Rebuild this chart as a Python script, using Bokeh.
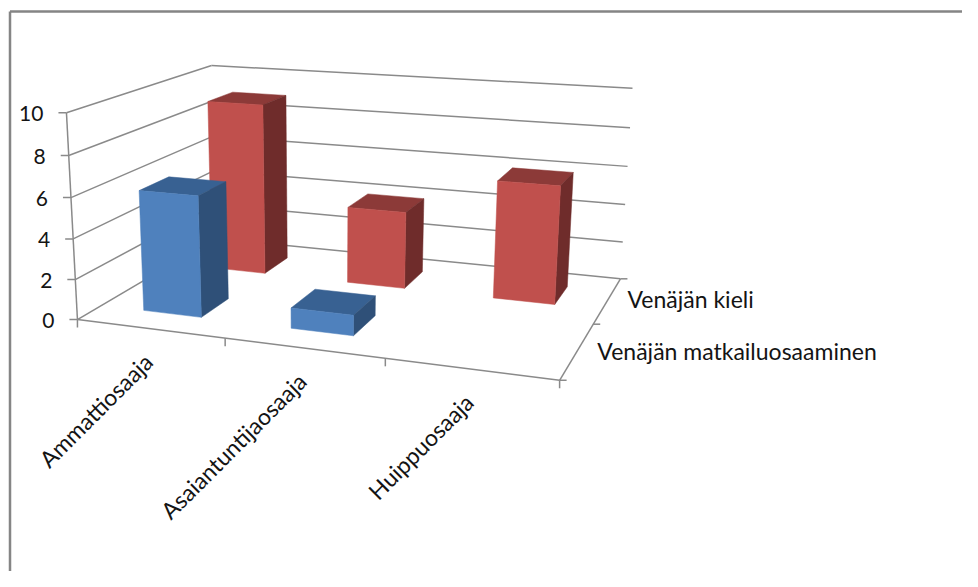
import numpy as np
from bokeh.plotting import figure
from bokeh.models import Range1d
from bokeh.core.properties import value
from bokeh.embed import file_html
from bokeh.resources import INLINE

# ---- chart data ----
categories = ["Ammattiosaaja", "Asaiantuntijaosaaja", "Huippuosaaja"]
series_names = ["Venäjän matkailuosaaminen", "Venäjän kieli"]
matkailu_values = [6, 1, 0]
kieli_values = [9, 4, 6]
value_ticks = [0, 2, 4, 6, 8, 10]

# ---- styles ----
FONT = "Lato"
TXT = "#141414"
GRID = "#8a8a8a"
FRAME = "#858585"
STYLE = {
    0: dict(front="#4F81BD", top="#386192", side="#2F5078"),
    1: dict(front="#C0504D", top="#8C3A38", side="#6F2C2B"),
}
GAP = 0.30  # share of a cell left empty on each side of a column

W, H = 962, 571
OX, OY = 0, 0

# ---- perspective camera: fitted to where the plot box corners sit on screen ----
box = np.array([
    # (category, series, value) in box units, then screen pixel
    [0, 0, 0, 77, 319],
    [0, 0, 1, 66, 112],
    [1, 0, 0, 559, 380],
    [0, 1, 0, 215, 238],
    [0, 1, 1, 211, 65],
    [1, 1, 0, 620, 278],
    [1, 1, 1, 632, 88],
], dtype=float)
rows = []
for u, v, w, sx, sy in box:
    rows.append([u, v, w, 1, 0, 0, 0, 0, -sx * u, -sx * v, -sx * w, sx])
    rows.append([0, 0, 0, 0, u, v, w, 1, -sy * u, -sy * v, -sy * w, sy])
rows = np.array(rows)
sol = np.linalg.lstsq(rows[:, :11], rows[:, 11], rcond=None)[0]
CAM = np.append(sol, 1.0).reshape(3, 4)


def proj(cat, ser, val):
    """category position (0..n), series position (0..m), value -> plot coords"""
    q = np.array([cat / len(categories), ser / len(series_names), val / value_ticks[-1], 1.0])
    r = CAM @ q
    return r[0] / r[2] - OX, r[1] / r[2] - OY


p = figure(width=W, height=H, output_backend="svg", toolbar_location=None,
           x_range=Range1d(0, W), y_range=Range1d(H, 0), min_border=0,
           outline_line_color=None, background_fill_color="white",
           border_fill_color="white")
p.xaxis.visible = False
p.yaxis.visible = False
p.xgrid.visible = False
p.ygrid.visible = False


def seg(a, b, width=1.5, color=GRID):
    p.line([a[0], b[0]], [a[1], b[1]], line_color=color, line_width=width)


# outer frame
p.line([9.5, 9.5], [H, 11], line_color=FRAME, line_width=2.5)
p.line([9.5, W], [11, 11], line_color=FRAME, line_width=2.5)

nc, ns = len(categories), len(series_names)
vmax = value_ticks[-1]

# walls' gridlines
for t in value_ticks:
    seg(proj(0, 0, t), proj(0, ns, t))
    seg(proj(0, ns, t), proj(nc, ns, t))

# floor edges
seg(proj(0, 0, 0), proj(nc, 0, 0))
seg(proj(nc, 0, 0), proj(nc, ns, 0))
# value axis line
seg(proj(0, 0, 0), proj(0, 0, vmax))

# ticks
for t in value_ticks:
    a = proj(0, 0, t)
    seg(a, (a[0] - 8, a[1]))
for i in range(nc + 1):
    a = proj(i, 0, 0)
    seg(a, (a[0], a[1] + 8))
for j in range(ns + 1):
    a = proj(nc, j, 0)
    seg(a, (a[0] + 7, a[1]))


def column(i, j, val):
    if val <= 0:
        return
    st = STYLE[j]
    u0, u1 = i + GAP, i + 1 - GAP
    v0, v1 = j + GAP, j + 1 - GAP
    def P(*corners):
        pts = [proj(*c) for c in corners]
        return [q[0] for q in pts], [q[1] for q in pts]
    xs, ys = P((u0, v0, val), (u1, v0, val), (u1, v1, val), (u0, v1, val))
    p.patch(xs, ys, fill_color=st["top"], line_color=st["top"], line_width=0.5)
    xs, ys = P((u1, v0, 0), (u1, v1, 0), (u1, v1, val), (u1, v0, val))
    p.patch(xs, ys, fill_color=st["side"], line_color=st["side"], line_width=0.5)
    xs, ys = P((u0, v0, 0), (u1, v0, 0), (u1, v0, val), (u0, v0, val))
    p.patch(xs, ys, fill_color=st["front"], line_color=st["front"], line_width=0.5)


# back series first, then front, left to right
all_vals = [matkailu_values, kieli_values]
for j in range(ns - 1, -1, -1):
    for i in range(nc):
        column(i, j, all_vals[j][i])

# value labels
for t in value_ticks:
    a = proj(0, 0, t)
    p.text([a[0] - 23], [a[1] + 0.5], text=[str(t)], text_font=value(FONT), text_font_size="21px",
           text_color=TXT, text_align="right", text_baseline="middle")

# category labels, 45 degrees, ending below their cell
for i, c in enumerate(categories):
    a = proj(i + 0.5, 0, 0)
    p.text([a[0] - 1.5], [a[1] + 29], text=[c], text_font=value(FONT), text_font_size="23px",
           text_color=TXT, text_align="right", text_baseline="middle", angle=np.pi / 4)

# series labels
for j, s in enumerate(series_names):
    a = proj(nc, j + 0.5, 0)
    dy = -1.5 if j == 1 else 0.5
    p.text([a[0] + 20], [a[1] + dy], text=[s], text_font=value(FONT), text_font_size="23px",
           text_color=TXT, text_align="left", text_baseline="middle")

open("out.html", "w").write(file_html(p, INLINE))
